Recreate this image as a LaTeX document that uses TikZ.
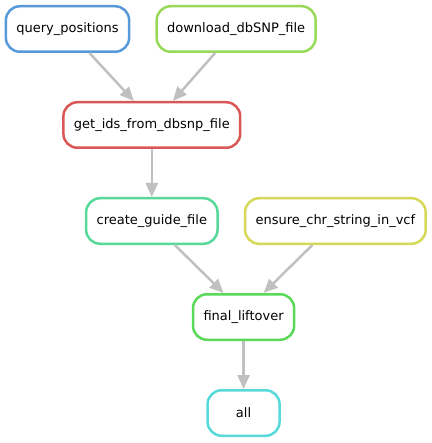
\documentclass[tikz,border=0pt]{standalone}
\usepackage{fontspec}
\setmainfont{DejaVu Sans}
\usetikzlibrary{arrows.meta}
\usetikzlibrary{calc, positioning}

\definecolor{rulered}{RGB}{217,87,87}
\definecolor{ruleyellow}{RGB}{214,217,87}
\definecolor{rulelime}{RGB}{152,217,87}
\definecolor{rulegreen}{RGB}{89,217,87}
\definecolor{ruleteal}{RGB}{87,217,154}
\definecolor{rulecyan}{RGB}{87,217,217}
\definecolor{ruleblue}{RGB}{87,154,217}
\definecolor{edgegrey}{RGB}{192,192,192}

\begin{document}
\begin{tikzpicture}[line width=2.5pt, > = {Triangle[length=14pt, width=12pt]}]
    \tikzset{
      my rule/.style={
        draw=#1, rectangle, rounded corners=14pt, fill=white,
        minimum height=45.5pt, inner xsep=10.5pt, anchor=center,
        font=\fontsize{13}{15}\selectfont
      },
      my edge/.style={
        draw=edgegrey, ->
      },
    }
    \useasboundingbox (0,0) rectangle (431pt,-443pt);

    % Draw rules
    \node (query) [my rule=ruleblue] at (67.5pt,-29pt) {query\_positions};
    \node (download) [my rule=rulelime, right=25pt of query] {download\_dbSNP\_file};
    \coordinate (topmid) at ($(query.south)!0.5!(download.south)$);
    \node (getids) [my rule=rulered, below=48pt of topmid] {get\_ids\_from\_dbsnp\_file};
    \node (guide) [my rule=ruleteal, below=48pt of getids] {create\_guide\_file};
    \node (ensure) [my rule=ruleyellow, right=25pt of guide] {ensure\_chr\_string\_in\_vcf};
    \coordinate (lowmid) at ($(guide.south)!0.5!(ensure.south)$);
    \node (final) [my rule=rulegreen, below=48pt of lowmid] {final\_liftover};
    \node (all) [my rule=rulecyan, below=48pt of final, minimum width=72pt] {all};

    % Arrows
    \foreach \src/\srcshift/\dst/\dstshift in {query/22/getids/-18, download/-21/getids/21,
      getids/0/guide/0, guide/23/final/-20, ensure/-23/final/20, final/0/all/0} {
      \draw[my edge] ([xshift=\srcshift pt]\src.south) -- ([xshift=\dstshift pt]\dst.north);
    }

  \end{tikzpicture}
\end{document}
